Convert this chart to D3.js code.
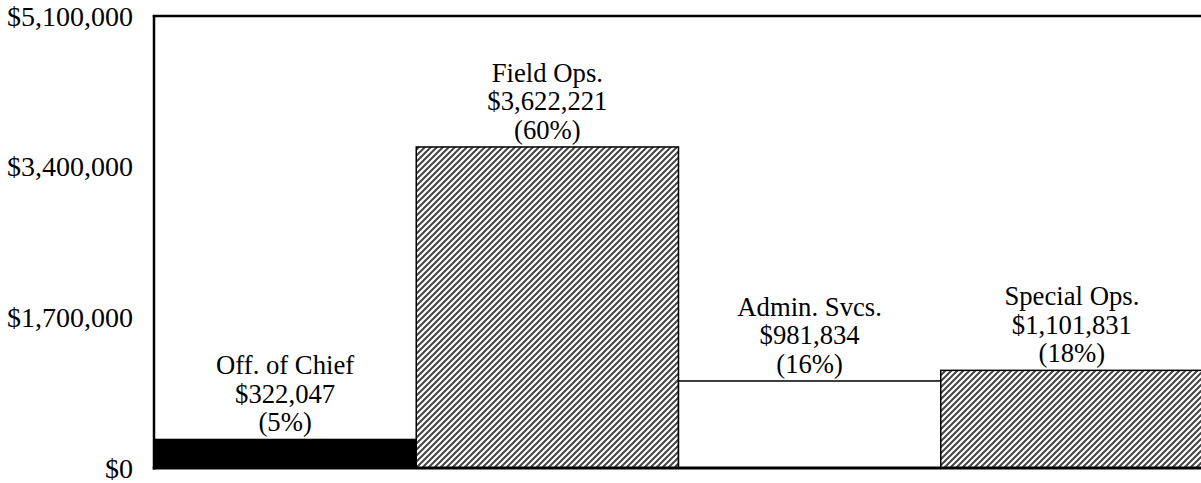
<!DOCTYPE html>
<html>
<head>
<meta charset="utf-8">
<script src="https://cdn.jsdelivr.net/npm/d3@7"></script>
<style>
  body { margin: 0; background: #fff; }
  text { font-family: "Liberation Serif", "Times New Roman", serif; fill: #000; }
</style>
</head>
<body>
<div id="chart"></div>
<script>
// chart data
var divisions = ["Off. of Chief", "Field Ops.", "Admin. Svcs.", "Special Ops."]
var amounts = [322047, 3622221, 981834, 1101831]
var shares = ["(5%)", "(60%)", "(16%)", "(18%)"]
var fills = ["solid", "hatch", "white", "hatch"]
var yTicks = [0, 1700000, 3400000, 5100000]

var margin = {top: 16, right: -2, bottom: 15, left: 154},
    width = 1201 - margin.left - margin.right,
    height = 483 - margin.top - margin.bottom;

var svg = d3.select("#chart")
  .append("svg")
    .attr("width", 1201)
    .attr("height", 483)
  .append("g")
    .attr("transform", "translate(" + margin.left + "," + margin.top + ")");

// hatch pattern
var defs = svg.append("defs")
var pat = defs.append("pattern")
    .attr("id", "hatch")
    .attr("patternUnits", "userSpaceOnUse")
    .attr("width", 6)
    .attr("height", 6)
pat.append("rect").attr("width", 6).attr("height", 6).attr("fill", "#fff")
pat.append("path")
    .attr("d", "M-1,7 L7,-1 M-4,4 L4,-4 M2,10 L10,2")
    .attr("stroke", "#444")
    .attr("stroke-width", 2)

var x = d3.scaleBand()
    .domain(divisions)
    .range([0, width])
    .padding(0)

var y = d3.scaleLinear()
    .domain([0, 5100000])
    .range([height, 0])

var fmt = d3.format("$,")

// bars
svg.selectAll(".bar")
  .data(divisions)
  .enter()
  .append("rect")
    .attr("x", function(d) { return x(d) })
    .attr("y", function(d, i) { return y(amounts[i]) })
    .attr("width", x.bandwidth())
    .attr("height", function(d, i) { return height - y(amounts[i]) })
    .attr("fill", function(d, i) {
        if (fills[i] == "solid") return "#000"
        if (fills[i] == "hatch") return "url(#hatch)"
        return "#fff"
    })
    .attr("stroke", "#000")
    .attr("stroke-width", 1.5)

// bar labels
divisions.forEach(function(d, i) {
    var cx = x(d) + x.bandwidth() / 2
    var top = y(amounts[i])
    var lines = [d, fmt(amounts[i]), shares[i]]
    lines.forEach(function(t, j) {
        svg.append("text")
            .attr("x", cx)
            .attr("y", top - 8 - (2 - j) * 28.5)
            .attr("text-anchor", "middle")
            .style("font-size", "26.7px")
            .text(t)
    })
})

// y axis labels
svg.selectAll(".ylab")
  .data(yTicks)
  .enter()
  .append("text")
    .attr("x", -21)
    .attr("y", function(d) { return y(d) })
    .attr("dy", "0.34em")
    .attr("text-anchor", "end")
    .style("font-size", "28px")
    .text(function(d) { return fmt(d) })

// frame: left, top and bottom lines
svg.append("line")
    .attr("x1", 0).attr("x2", 0)
    .attr("y1", -1).attr("y2", height + 1.5)
    .attr("stroke", "#000").attr("stroke-width", 2.5)
svg.append("line")
    .attr("x1", -1.25).attr("x2", width + 5)
    .attr("y1", 0).attr("y2", 0)
    .attr("stroke", "#000").attr("stroke-width", 2.5)
svg.append("line")
    .attr("x1", -1.25).attr("x2", width + 5)
    .attr("y1", height).attr("y2", height)
    .attr("stroke", "#000").attr("stroke-width", 3)
</script>
</body>
</html>
